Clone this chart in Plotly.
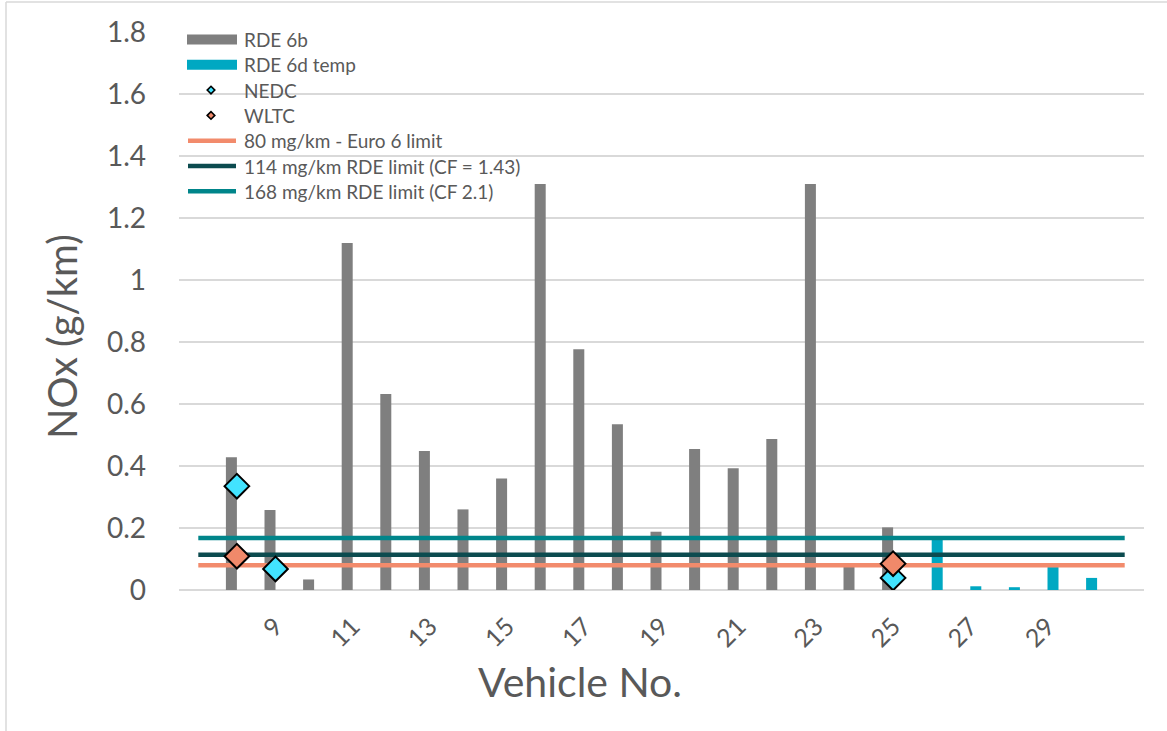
import plotly.graph_objects as go

# ---- data ----------------------------------------------------------------
vehicles_6b = [8, 9, 10, 11, 12, 13, 14, 15, 16, 17, 18, 19, 20, 21, 22, 23, 24, 25]
nox_6b = [0.428, 0.258, 0.034, 1.119, 0.632, 0.448, 0.26, 0.36, 1.31, 0.777,
          0.535, 0.188, 0.455, 0.393, 0.487, 1.31, 0.075, 0.202]

vehicles_6d = [26, 27, 28, 29, 30]
nox_6d = [0.163, 0.012, 0.009, 0.074, 0.039]

nedc_vehicles = [8, 9, 25]
nedc_nox = [0.335, 0.068, 0.039]

wltc_vehicles = [8, 25]
wltc_nox = [0.109, 0.085]

limit_names = ["80 mg/km - Euro 6 limit",
               "114 mg/km RDE limit (CF = 1.43)",
               "168 mg/km RDE limit (CF 2.1)"]
limit_values = [0.080, 0.114, 0.168]
limit_span = [7, 31]

x_tick_vehicles = [9, 11, 13, 15, 17, 19, 21, 23, 25, 27, 29]
y_ticks = [0, 0.2, 0.4, 0.6, 0.8, 1, 1.2, 1.4, 1.6, 1.8]

# ---- styling -------------------------------------------------------------
FONT = "Lato"
TEXT_GREY = "#595959"
GRID_GREY = "#D9D9D9"
C_6B = "#7F7F7F"
C_6D = "#00A8C2"
C_NEDC = "#42E3FF"
C_WLTC = "#F0896A"
LIMIT_COLORS = ["#F28B6C", "#0C4B4F", "#00858A"]
BAR_W = 0.285  # each series takes one half of a clustered slot

W, H = 1167, 731
M_L, M_R, M_T, M_B = 179, 23, 32, 141
PLOT_W = W - M_L - M_R
PLOT_H = H - M_T - M_B


def px(x):
    """Pixel column -> paper x."""
    return (x - M_L) / PLOT_W


def py(y):
    """Pixel row -> paper y."""
    return (H - M_B - y) / PLOT_H


fig = go.Figure()

# clustered columns: RDE 6b in the left half of each slot, RDE 6d temp in the right
fig.add_trace(go.Bar(x=vehicles_6b, y=nox_6b, name="RDE 6b",
                     width=BAR_W, offset=-BAR_W,
                     marker=dict(color=C_6B, line=dict(width=0))))
fig.add_trace(go.Bar(x=vehicles_6d, y=nox_6d, name="RDE 6d temp",
                     width=BAR_W, offset=0,
                     marker=dict(color=C_6D, line=dict(width=0))))

for name, value, color in zip(limit_names, limit_values, LIMIT_COLORS):
    fig.add_trace(go.Scatter(x=limit_span, y=[value, value], mode="lines",
                             name=name, line=dict(color=color, width=4.5)))

fig.add_trace(go.Scatter(x=nedc_vehicles, y=nedc_nox, mode="markers", name="NEDC",
                         marker=dict(symbol="diamond", size=19, color=C_NEDC,
                                     line=dict(color="black", width=2))))
fig.add_trace(go.Scatter(x=wltc_vehicles, y=wltc_nox, mode="markers", name="WLTC",
                         marker=dict(symbol="diamond", size=19, color=C_WLTC,
                                     line=dict(color="black", width=2))))

# ---- hand-drawn legend in the top-left corner -----------------------------
shapes = []
annotations = []
legend_rows = [
    ("RDE 6b", "bar", C_6B),
    ("RDE 6d temp", "bar", C_6D),
    ("NEDC", "diamond", C_NEDC),
    ("WLTC", "diamond", C_WLTC),
    (limit_names[0], "line", LIMIT_COLORS[0]),
    (limit_names[1], "line", LIMIT_COLORS[1]),
    (limit_names[2], "line", LIMIT_COLORS[2]),
]
row_y0, row_step = 39.5, 25.3
for i, (label, kind, color) in enumerate(legend_rows):
    yc = row_y0 + i * row_step
    if kind == "bar":
        shapes.append(dict(type="rect", xref="paper", yref="paper",
                           x0=px(187), x1=px(237), y0=py(yc - 5), y1=py(yc + 5),
                           fillcolor=color, line=dict(width=0)))
    elif kind == "line":
        shapes.append(dict(type="line", xref="paper", yref="paper",
                           x0=px(188), x1=px(236), y0=py(yc), y1=py(yc),
                           line=dict(color=color, width=4.5)))
    else:
        r = 3.8
        cx = 211
        path = (f"M {px(cx - r)},{py(yc)} L {px(cx)},{py(yc - r)} "
                f"L {px(cx + r)},{py(yc)} L {px(cx)},{py(yc + r)} Z")
        shapes.append(dict(type="path", xref="paper", yref="paper", path=path,
                           fillcolor=color, line=dict(color="black", width=1.6)))
    annotations.append(dict(text=label, xref="paper", yref="paper",
                            x=px(242), y=py(yc), xanchor="left", yanchor="middle",
                            showarrow=False,
                            font=dict(family=FONT, size=19, color=TEXT_GREY)))

# axis titles
annotations.append(dict(text="NOx (g/km)", xref="paper", yref="paper",
                        x=px(62), y=py(337), xanchor="center", yanchor="middle",
                        textangle=-90, showarrow=False,
                        font=dict(family=FONT, size=40, color=TEXT_GREY)))
annotations.append(dict(text="Vehicle No.", xref="paper", yref="paper",
                        x=px(580), y=py(681), xanchor="center", yanchor="middle",
                        showarrow=False,
                        font=dict(family=FONT, size=41, color=TEXT_GREY)))

# chart-area outline (left and top edges)
shapes.append(dict(type="line", xref="paper", yref="paper",
                   x0=px(6), x1=px(6), y0=py(2), y1=py(H + 5),
                   line=dict(color=GRID_GREY, width=1.5)))
shapes.append(dict(type="line", xref="paper", yref="paper",
                   x0=px(6), x1=px(W + 5), y0=py(2), y1=py(2),
                   line=dict(color=GRID_GREY, width=1.5)))

fig.update_layout(
    width=W, height=H,
    margin=dict(l=M_L, r=M_R, t=M_T, b=M_B, autoexpand=False),
    paper_bgcolor="white", plot_bgcolor="white",
    barmode="overlay",
    showlegend=False,
    font=dict(family=FONT, color=TEXT_GREY),
    shapes=shapes,
    annotations=annotations,
)

fig.update_xaxes(
    range=[6.5, 31.5], tickmode="array", tickvals=x_tick_vehicles,
    ticktext=[str(v) for v in x_tick_vehicles],
    tickangle=-45, tickfont=dict(family=FONT, size=25, color=TEXT_GREY),
    ticks="", ticklabelstandoff=16,
    showgrid=False, zeroline=False, showline=False, automargin=False,
)
fig.update_yaxes(
    range=[0, 1.8], tickmode="array", tickvals=y_ticks,
    ticktext=[f"{v:g}" for v in y_ticks],
    tickfont=dict(family=FONT, size=28, color=TEXT_GREY),
    ticks="", ticklabelstandoff=32,
    showgrid=True, gridcolor=GRID_GREY, gridwidth=2,
    zeroline=True, zerolinecolor=GRID_GREY, zerolinewidth=2,
    showline=False, automargin=False,
)

fig.write_html("out.html")
